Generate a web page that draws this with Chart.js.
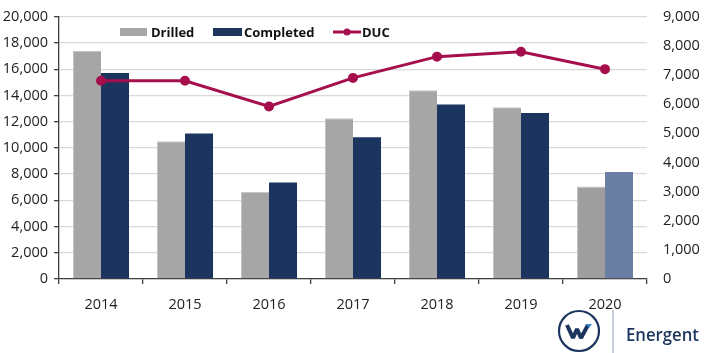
<!DOCTYPE html>
<html>
<head>
<meta charset="utf-8">
<script src="https://cdn.jsdelivr.net/npm/chart.js@4"></script>
<style>
  body { margin: 0; background: #fff; font-family: "Open Sans", sans-serif; }
  #wrap { position: relative; width: 709px; height: 353px; overflow: hidden; }
  #chart { position: absolute; left: 0; top: -8px; }
  .lg { position: absolute; font: 700 13px "Open Sans", sans-serif; color: #111; top: 23px; white-space: nowrap; }
  .box { position: absolute; height: 8px; top: 28px; }
  #logo { position: absolute; left: 555px; top: 308px; }
</style>
</head>
<body>
<div id="wrap">
  <canvas id="chart" width="709" height="361"></canvas>
  <!-- legend -->
  <div class="box" style="left:120px;width:27px;background:#A6A6A6"></div>
  <div class="lg" style="left:151px">Drilled</div>
  <div class="box" style="left:213px;width:29px;background:#1C355E"></div>
  <div class="lg" style="left:244px">Completed</div>
  <svg style="position:absolute;left:332px;top:26px" width="30" height="12">
    <line x1="1" y1="6" x2="29" y2="6" stroke="#A50F4B" stroke-width="3"/>
    <circle cx="15" cy="6" r="3.5" fill="#A50F4B"/>
  </svg>
  <div class="lg" style="left:362px">DUC</div>
  <!-- logo -->
  <svg id="logo" width="154" height="45">
    <circle cx="24" cy="23" r="20" fill="none" stroke="#1C355E" stroke-width="2.2"/>
    <path d="M12 17 L18 30 L22 21 L26 30 L33 17" fill="none" stroke="#1C355E" stroke-width="4" stroke-linejoin="bevel"/>
    <path d="M31 16 L37 16 L34 20 Z" fill="#2E8BD8"/>
    <line x1="58" y1="2" x2="58" y2="45" stroke="#8A9BB5" stroke-width="1"/>
    <text x="71" y="33" font-family="Open Sans" font-weight="600" font-size="18" textLength="73" lengthAdjust="spacingAndGlyphs" fill="#1C355E">Energent</text>
  </svg>
</div>
<script>
// chart data
const years = ['2014', '2015', '2016', '2017', '2018', '2019', '2020'];
const drilled = [17400, 10500, 6650, 12250, 14400, 13100, 7050];
const completed = [15700, 11100, 7350, 10800, 13300, 12650, 8150];
const duc = [6800, 6800, 5920, 6900, 7630, 7800, 7200];

const drilledColors = ['#A6A6A6', '#A6A6A6', '#A6A6A6', '#A6A6A6', '#A6A6A6', '#A6A6A6', '#9E9E9E'];
const completedColors = ['#1C355E', '#1C355E', '#1C355E', '#1C355E', '#1C355E', '#1C355E', '#6A7FA3'];

const tickFont = { family: 'Open Sans', size: 14.5 };

new Chart(document.getElementById('chart').getContext('2d'), {
    type: 'bar',
    data: {
        labels: years,
        datasets: [
            {
                type: 'line',
                label: 'DUC',
                data: duc,
                yAxisID: 'y1',
                borderColor: '#A50F4B',
                backgroundColor: '#A50F4B',
                borderWidth: 3,
                pointRadius: 3.5,
                pointBackgroundColor: '#A50F4B',
                tension: 0,
                order: 0
            },
            {
                label: 'Drilled',
                data: drilled,
                yAxisID: 'y',
                backgroundColor: drilledColors,
                borderColor: '#C4C4C4',
                borderWidth: { left: 1, right: 0, top: 1, bottom: 0 },
                barPercentage: 1,
                categoryPercentage: 0.667,
                order: 1
            },
            {
                label: 'Completed',
                data: completed,
                yAxisID: 'y',
                backgroundColor: completedColors,
                barPercentage: 1,
                categoryPercentage: 0.667,
                order: 1
            }
        ]
    },
    options: {
        responsive: false,
        devicePixelRatio: 1,
        animation: false,
        layout: { padding: { top: 6, left: 0, right: 0, bottom: 0 } },
        plugins: { legend: { display: false }, tooltip: { enabled: false } },
        scales: {
            x: {
                grid: { offset: true, drawOnChartArea: false, tickLength: 5, tickColor: '#404040', lineWidth: 1.3 },
                border: { color: '#404040', width: 1.3 },
                ticks: { font: tickFont, color: '#222', padding: 12 },
                afterFit: scale => { scale.height = 74; }
            },
            y: {
                position: 'left',
                min: 0,
                max: 20000,
                grid: { color: '#D9D9D9', lineWidth: 1.3, tickLength: 5, tickColor: '#404040' },
                border: { color: '#404040', width: 1.3 },
                ticks: {
                    stepSize: 2000,
                    font: tickFont,
                    color: '#222',
                    padding: 6,
                    callback: v => v.toLocaleString('en-US')
                },
                afterFit: scale => { scale.width = 59; }
            },
            y1: {
                position: 'right',
                min: 0,
                max: 9000,
                grid: { display: false, drawTicks: false },
                border: { display: false },
                ticks: {
                    stepSize: 1000,
                    font: tickFont,
                    color: '#222',
                    padding: 16,
                    callback: v => v.toLocaleString('en-US')
                },
                afterFit: scale => { scale.width = 62; }
            }
        }
    }
});
</script>
</body>
</html>
